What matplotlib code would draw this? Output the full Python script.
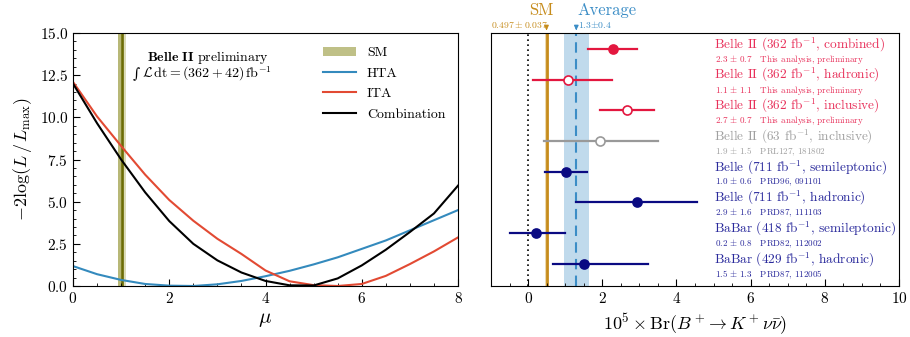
import numpy as np
import matplotlib
matplotlib.use('Agg')
import matplotlib.pyplot as plt
from matplotlib.ticker import MultipleLocator
from matplotlib.patches import Patch
from matplotlib.lines import Line2D

plt.rcParams['font.family'] = 'serif'
plt.rcParams['font.serif'] = ['cmr10']
plt.rcParams['mathtext.fontset'] = 'cm'
plt.rcParams['axes.formatter.use_mathtext'] = True
plt.rcParams['axes.unicode_minus'] = False

# likelihood scan
mu = [0, 0.5, 1, 1.5, 2, 2.5, 3, 3.5, 4, 4.5, 5, 5.5, 6, 6.5, 7, 7.5, 8]
hta = [1.18, 0.7, 0.36, 0.12, 0.02, 0.0, 0.1, 0.3, 0.58, 0.9, 1.28, 1.7, 2.2, 2.7, 3.3, 3.9, 4.5]
ita = [12.1, 10.05, 8.3, 6.6, 5.1, 3.87, 2.8, 1.9, 0.92, 0.28, 0.05, 0.0, 0.12, 0.6, 1.3, 2.05, 2.88]
comb = [12.0, 9.65, 7.5, 5.55, 3.85, 2.5, 1.52, 0.8, 0.3, 0.04, 0.03, 0.45, 1.22, 2.15, 3.2, 4.3, 5.95]
sm_mu = 1.015
sm_band = (0.935, 1.06)
sm_band_outer = (0.935, 1.11)

# branching fraction measurements
labels = [r'Belle II (362 fb$^{-1}$, combined)',
          r'Belle II (362 fb$^{-1}$, hadronic)',
          r'Belle II (362 fb$^{-1}$, inclusive)',
          r'Belle II (63 fb$^{-1}$, inclusive)',
          r'Belle (711 fb$^{-1}$, semileptonic)',
          r'Belle (711 fb$^{-1}$, hadronic)',
          r'BaBar (418 fb$^{-1}$, semileptonic)',
          r'BaBar (429 fb$^{-1}$, hadronic)']
sublabels = [r'2.3$\,\pm\,$0.7   This analysis, preliminary',
             r'1.1$\,\pm\,$1.1   This analysis, preliminary',
             r'2.7$\,\pm\,$0.7   This analysis, preliminary',
             r'1.9$\,\pm\,$1.5   PRL127, 181802',
             r'1.0$\,\pm\,$0.6   PRD96, 091101',
             r'2.9$\,\pm\,$1.6   PRD87, 111103',
             r'0.2$\,\pm\,$0.8   PRD82, 112002',
             r'1.5$\,\pm\,$1.3   PRD87, 112005']
br = [2.3, 1.07, 2.67, 1.93, 1.03, 2.93, 0.2, 1.5]
br_lo = [1.62, 0.12, 1.94, 0.44, 0.46, 1.3, -0.49, 0.68]
br_hi = [2.94, 2.25, 3.4, 3.51, 1.6, 4.56, 1.0, 3.24]
filled = [True, False, False, False, True, True, True, True]
groups = ['b2', 'b2', 'b2', 'old', 'b1', 'b1', 'b1', 'b1']
sm_br = 0.497
sm_br_err = 0.037
avg_br = 1.3
avg_band = (0.97, 1.65)

mark_colors = {'b2': '#e3173f', 'old': '#999999', 'b1': '#0a0a82'}
text_colors = {'b2': '#e8305a', 'old': '#a0a0a0', 'b1': '#2a2a9c'}

fig = plt.figure(figsize=(9.1, 3.37), dpi=100)
ax1 = fig.add_axes([73 / 910, 1 - 286 / 337, 385 / 910, 253 / 337])
ax2 = fig.add_axes([491 / 910, 1 - 286 / 337, 408 / 910, 253 / 337])

# left panel
ax1.axvspan(*sm_band_outer, color='#dcdcb8', lw=0, zorder=1)
ax1.axvspan(*sm_band, color='#b8b877', lw=0, zorder=1)
ax1.axvline(sm_mu, color='#6c6c05', lw=1.8, zorder=1)
ax1.plot(mu, hta, color='#348ABD', lw=1.5, zorder=2)
ax1.plot(mu, ita, color='#E24A33', lw=1.5, zorder=2)
ax1.plot(mu, comb, color='black', lw=1.5, zorder=3)
ax1.set_xlim(0, 8)
ax1.set_ylim(0, 15)
ax1.xaxis.set_major_locator(MultipleLocator(2))
ax1.xaxis.set_minor_locator(MultipleLocator(0.5))
ax1.yaxis.set_major_locator(MultipleLocator(2.5))
ax1.yaxis.set_minor_locator(MultipleLocator(0.5))
ax1.tick_params(which='both', direction='in', labelsize=11)
ax1.tick_params(which='major', length=5)
ax1.tick_params(which='minor', length=2.5)
ax1.set_xlabel(r'$\mu$', fontsize=15)
ax1.set_ylabel(r'$-2\log(L\,/\,L_{\max})$', fontsize=13)
ax1.text(0.35, 0.905, r'$\mathbf{Belle\ II}$ preliminary', transform=ax1.transAxes,
         ha='center', va='center', fontsize=10)
ax1.text(0.155, 0.838, '\u222b', transform=ax1.transAxes, ha='left', va='center',
         fontsize=10, family='DejaVu Serif')
ax1.text(0.178, 0.84, r'$\mathcal{L}\,\mathrm{dt} = (362 + 42)\,\mathrm{fb}^{-1}$',
         transform=ax1.transAxes, ha='left', va='center', fontsize=10)
handles = [Patch(color='#bfc087', lw=0),
           Line2D([], [], color='#348ABD', lw=1.5),
           Line2D([], [], color='#E24A33', lw=1.5),
           Line2D([], [], color='black', lw=1.5)]
ax1.legend(handles, ['SM', 'HTA', 'ITA', 'Combination'], loc='upper right', frameon=False,
           fontsize=10, handlelength=2.4, labelspacing=0.55, bbox_to_anchor=(1.0, 0.995))

# right panel
ax2.axvspan(*avg_band, color='#c0daec', lw=0, zorder=0)
ax2.axvspan(sm_br - sm_br_err, sm_br + sm_br_err, color='#ecd9b0', lw=0, zorder=0)
ax2.axvline(sm_br, color='#c68c1c', lw=2, zorder=1)
ax2.axvline(avg_br, color='#3b8dc6', lw=1.5, ls=(0, (5, 3)), zorder=1)
ax2.axvline(0, color='black', lw=1.2, ls=(0, (1, 2)), zorder=1)
for i in range(len(br)):
    c = mark_colors[groups[i]]
    ax2.plot([br_lo[i], br_hi[i]], [i, i], color=c, lw=1.6, zorder=3)
    ax2.plot(br[i], i, 'o', ms=6.5, mec=c, mew=1.2, mfc=c if filled[i] else 'white', zorder=4)
    ax2.text(5.0, i - 0.14, labels[i], color=text_colors[groups[i]], fontsize=9.6,
             ha='left', va='center')
    ax2.text(5.03, i + 0.34, sublabels[i], color=text_colors[groups[i]], fontsize=6.5,
             ha='left', va='center')
ax2.set_xlim(-1, 10)
ax2.set_ylim(7.72, -0.52)
ax2.set_yticks([])
ax2.xaxis.set_major_locator(MultipleLocator(2))
ax2.xaxis.set_minor_locator(MultipleLocator(0.5))
ax2.tick_params(which='both', direction='in', labelsize=11)
ax2.tick_params(which='major', length=5)
ax2.tick_params(which='minor', length=2.5)
ax2.set_xlabel(r'$10^5\times\mathrm{Br}(B^+\!\rightarrow K^+\nu\bar{\nu})$', fontsize=13)

trans = ax2.get_xaxis_transform()
ax2.annotate('', xy=(sm_br, 1.0), xycoords=trans, xytext=(sm_br, 1.03), textcoords=trans,
             arrowprops=dict(arrowstyle='-|>', color='#c68c1c', lw=1, mutation_scale=6))
ax2.annotate('', xy=(avg_br, 1.0), xycoords=trans, xytext=(avg_br, 1.03), textcoords=trans,
             arrowprops=dict(arrowstyle='-|>', color='#3b8dc6', lw=1, mutation_scale=6))
ax2.text(sm_br - 0.15, 1.088, 'SM', transform=trans, color='#c68c1c', fontsize=12,
         ha='center', va='center', clip_on=False)
ax2.text(sm_br + 0.05, 1.035, r'$0.497\pm0.037$', transform=trans, color='#c68c1c',
         fontsize=7, ha='right', va='center', clip_on=False)
ax2.text(avg_br + 0.02, 1.088, 'Average', transform=trans, color='#3b8dc6', fontsize=12,
         ha='left', va='center', clip_on=False)
ax2.text(avg_br + 0.05, 1.035, r'1.3$\pm$0.4', transform=trans, color='#3b8dc6',
         fontsize=7, ha='left', va='center', clip_on=False)

fig.savefig('out.png', dpi=100)
